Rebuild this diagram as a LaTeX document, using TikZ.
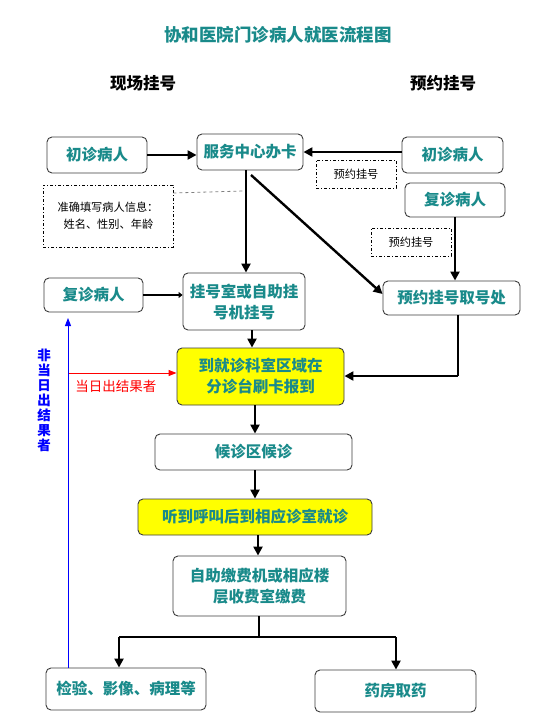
\documentclass[tikz,border=0pt]{standalone}
\usepackage{fontspec}
\setmainfont{Noto Sans CJK SC}
\usetikzlibrary{arrows.meta}
\definecolor{tealtxt}{RGB}{25,138,138}
\definecolor{boxline}{RGB}{60,60,60}
\definecolor{yel}{RGB}{255,255,0}
\tikzset{
  box/.style={draw=boxline,line width=0.9pt,rounded corners=5pt,fill=white,text=tealtxt,font=\bfseries\fontsize{15.5}{21}\selectfont,align=center,inner sep=0pt},
  ybox/.style={box,fill=yel},
  note/.style={draw=black,line width=0.7pt,dash pattern=on 3pt off 2pt on 1pt off 2pt,font=\fontsize{11.2}{17}\selectfont,align=left,inner sep=0pt},
  arr/.style={line width=2.6pt,-{Triangle[length=9pt,width=9pt]}},
  ln/.style={line width=2.6pt}
}
\begin{document}
\begin{tikzpicture}[x=1pt,y=-1pt]
\useasboundingbox (0,0) rectangle (558,728);
% title and headers
\node[text=tealtxt,font=\bfseries\fontsize{17.5}{20}\selectfont] (title) at (278,35) {协和医院门诊病人就医流程图};
\node[font=\bfseries\fontsize{16.5}{18}\selectfont] (h1) at (143,83) {现场挂号};
\node[font=\bfseries\fontsize{16.5}{18}\selectfont] (h2) at (443,83) {预约挂号};
% boxes
\node[box,minimum width=100pt,minimum height=36pt] (c1) at (97,155) {初诊病人};
\node[box,minimum width=106pt,minimum height=36pt] (svc) at (250,152) {服务中心办卡};
\node[box,minimum width=101pt,minimum height=36pt] (c2) at (452.5,155) {初诊病人};
\node[box,minimum width=100pt,minimum height=34pt] (f2) at (455,200) {复诊病人};
\node[note,minimum width=80pt,minimum height=28pt,align=center] (n1) at (356,174) {预约挂号};
\node[note,minimum width=80pt,minimum height=28pt,align=center] (n2) at (411,242) {预约挂号};
\node[note,minimum width=130pt,minimum height=62pt,align=left] (n3) at (108,216) {准确填写病人信息：\\\hspace*{6pt}姓名、性别、年龄};
\node[box,minimum width=99pt,minimum height=34pt] (f1) at (93.5,295) {复诊病人};
\node[box,minimum width=122pt,minimum height=57pt] (reg) at (244,301.5) {挂号室或自助挂\\号机挂号};
\node[box,minimum width=137pt,minimum height=34pt] (take) at (451.5,298) {预约挂号取号处};
\node[ybox,minimum width=167pt,minimum height=57pt] (arrive) at (260.5,376.5) {到就诊科室区域在\\分诊台刷卡报到};
\node[box,minimum width=197pt,minimum height=36pt] (wait) at (253.5,452) {候诊区候诊};
\node[ybox,minimum width=234pt,minimum height=36pt] (call) at (255,517) {听到呼叫后到相应诊室就诊};
\node[box,minimum width=173pt,minimum height=60pt] (pay) at (259.5,586) {自助缴费机或相应楼\\层收费室缴费};
\node[box,minimum width=160pt,minimum height=42pt] (lab) at (126,689) {检验、影像、病理等};
\node[box,minimum width=161pt,minimum height=42pt] (drug) at (395.5,691) {药房取药};
% coordinates
\coordinate (d1) at (243,191);
\coordinate (j1) at (458,376);
\coordinate (sp) at (259,637);
\coordinate (bl) at (119,637);
\coordinate (br) at (396,637);
\coordinate (bstart) at (68,668);
\coordinate (bend) at (68,318);
\coordinate (rstart) at (68,373);
\coordinate (dg) at (251,175);
% connectors
\draw[arr] (c1.east) -- (svc.west |- c1.east);
\draw[arr] (c2.west |- 0,152) -- (svc.east |- 0,152);
\draw[arr] (svc.south -| 246,0) -- (reg.north -| 246,0);
\draw[arr,line width=2.4pt] (dg) -- (take.west |- 0,294);
\draw[arr] (f2.south) -- (take.north -| f2.south);
\draw[line width=2.6pt,-{Triangle[length=4pt,width=6pt]}] (f1.east) -- (reg.west |- f1.east);
\draw[arr] (reg.south -| 252,0) -- (arrive.north -| 252,0);
\draw[ln] (take.south -| j1) -- (j1);
\draw[arr] (j1) -- (arrive.east |- j1);
\draw[arr] (arrive.south -| 255,0) -- (wait.north -| 255,0);
\draw[arr] (wait.south -| 255,0) -- (call.north -| 255,0);
\draw[arr] (call.south -| 258,0) -- (pay.north -| 258,0);
\draw[ln] (pay.south -| sp) -- (sp);
\draw[ln] (bl) -- (br);
\draw[arr] (bl) -- (lab.north -| bl);
\draw[arr] (br) -- (drug.north -| br);
\draw[dashed,gray,line width=0.8pt] (n3.north east |- 0,193) -- (d1);
% red and blue
\draw[red,line width=1pt,-{Triangle[length=8pt,width=6pt]}] (rstart) -- (arrive.west |- rstart) node[pos=0.44,below=3pt,font=\fontsize{13.5}{15}\selectfont,text=red] {当日出结果者};
\draw[blue,line width=1pt,-{Triangle[length=8pt,width=6pt]}] (bstart) -- (bend);
\node[text=blue,font=\bfseries\fontsize{13.5}{15}\selectfont,align=center] (lblb) at (44,400) {非\\当\\日\\出\\结\\果\\者};
\end{tikzpicture}
\end{document}
